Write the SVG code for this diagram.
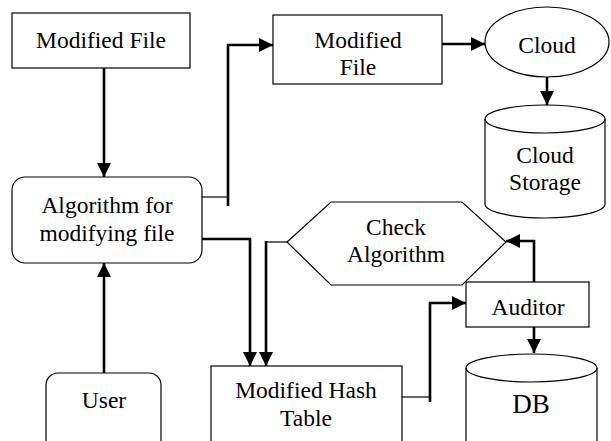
<svg xmlns="http://www.w3.org/2000/svg" width="611" height="441" viewBox="0 0 611 441">
<defs>
<style>
.box{fill:#fff;stroke:#000;stroke-width:1.2}
.t{font-family:'Liberation Serif','Times New Roman',serif;font-size:23.5px;fill:#000;text-anchor:middle}
.c{fill:none;stroke:#000;stroke-width:2.6}
.thin{fill:none;stroke:#000;stroke-width:1.2}
</style>
<marker id="ah" markerUnits="userSpaceOnUse" markerWidth="14" markerHeight="14" viewBox="0 0 14 14" refX="14" refY="7" orient="auto">
<path d="M0,0 L14,7 L0,14 Z" fill="#000"/>
</marker>
</defs>
<rect width="611" height="441" fill="#fff"/>
<g id="connectors">
<line class="c" x1="104" y1="68" x2="104" y2="177" marker-end="url(#ah)"/>
<line class="thin" x1="202" y1="197" x2="228" y2="197"/>
<path class="c" d="M228,206 L228,45 L273,45" marker-end="url(#ah)"/>
<line class="c" x1="442" y1="44" x2="485" y2="44" marker-end="url(#ah)"/>
<line class="c" x1="547" y1="77" x2="547" y2="105" marker-end="url(#ah)"/>
<path class="c" d="M202,239 L250,239 L250,366" marker-end="url(#ah)"/>
<line class="thin" x1="287" y1="242" x2="266" y2="242"/>
<path class="c" d="M266,241 L266,366" marker-end="url(#ah)"/>
<line class="c" x1="104" y1="373" x2="104" y2="263" marker-end="url(#ah)"/>
<line class="thin" x1="402" y1="397" x2="430" y2="397"/>
<path class="c" d="M430,402 L430,303 L466,303" marker-end="url(#ah)"/>
<path class="c" d="M534,282 L534,241 L506,241" marker-end="url(#ah)"/>
<line class="c" x1="534" y1="327" x2="534" y2="353" marker-end="url(#ah)"/>
</g>
<g id="modified-file-1">
<rect class="box" x="12" y="13" width="178" height="55"/>
<text class="t" x="101" y="48">Modified File</text>
</g>
<g id="algorithm">
<rect class="box" x="12" y="177" width="190" height="86" rx="13"/>
<text class="t" x="107" y="213">Algorithm for</text>
<text class="t" x="107" y="241">modifying file</text>
</g>
<g id="modified-file-2">
<rect class="box" x="273" y="15" width="169" height="69"/>
<text class="t" x="358" y="48">Modified</text>
<text class="t" x="358" y="75">File</text>
</g>
<g id="cloud">
<ellipse class="box" cx="547" cy="42" rx="62" ry="35"/>
<text class="t" x="547" y="53">Cloud</text>
</g>
<g id="cloud-storage">
<path class="box" d="M485,119 L485,204 A60,14 0 0 0 605,204 L605,119 A60,14 0 0 0 485,119 Z"/>
<path class="thin" d="M485,119 A60,14 0 0 0 605,119"/>
<text class="t" x="545" y="163">Cloud</text>
<text class="t" x="545" y="190">Storage</text>
</g>
<g id="check-algorithm">
<polygon class="box" points="287,242 331,202 462,202 506,242 462,285 331,285"/>
<text class="t" x="396" y="235">Check</text>
<text class="t" x="396" y="262">Algorithm</text>
</g>
<g id="auditor">
<rect class="box" x="466" y="282" width="123" height="45"/>
<text class="t" x="528" y="315">Auditor</text>
</g>
<g id="db">
<path class="box" d="M466,368 L466,450 L597,450 L597,368 A65.5,14 0 0 0 466,368 Z"/>
<path class="thin" d="M466,368 A65.5,14 0 0 0 597,368"/>
<text class="t" x="531" y="413" style="font-size:27px">DB</text>
</g>
<g id="hash-table">
<rect class="box" x="211" y="366" width="191" height="90"/>
<text class="t" x="306" y="398">Modified Hash</text>
<text class="t" x="306" y="426">Table</text>
</g>
<g id="user">
<rect class="box" x="46" y="373" width="115" height="90" rx="12"/>
<text class="t" x="104" y="408">User</text>
</g>
</svg>
